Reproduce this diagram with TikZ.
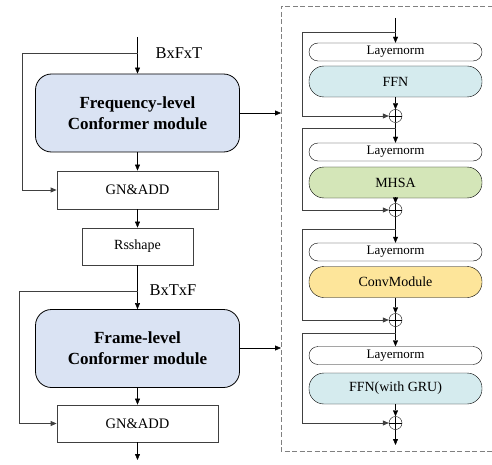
\documentclass[tikz,border=0pt]{standalone}
\usepackage{fontspec}
\setmainfont{Liberation Serif}
\usetikzlibrary{arrows.meta,positioning,calc}

\definecolor{blockblue}{HTML}{DAE3F3}
\definecolor{ffncyan}{HTML}{D5EBEE}
\definecolor{mhsagreen}{HTML}{D4E6B8}
\definecolor{convyellow}{HTML}{FDE59A}
\definecolor{linegray}{HTML}{404040}

\tikzset{
    arr/.style={draw=black, -{Triangle[length=6pt,width=5pt]}},
    skip/.style={draw=linegray, thick, -{Triangle[length=6pt,width=5pt]}},
    conformer/.style={draw, thick, rounded corners=16pt, fill=blockblue, minimum width=204pt,
        minimum height=78pt, align=center, font=\fontsize{17}{21}\selectfont\bfseries},
    plainbox/.style={draw=linegray, thick, fill=white, minimum width=161pt, minimum height=38pt,
        font=\fontsize{14.5}{17}\selectfont},
    normbox/.style={draw, rounded corners=9pt, minimum width=173pt, minimum height=18pt,
        inner sep=0pt, font=\fontsize{13}{15}\selectfont},
    subblock/.style={draw, rounded corners=15pt, minimum width=173pt, minimum height=31pt,
        inner sep=0pt, font=\fontsize{14}{16}\selectfont},
    addsum/.style={draw, circle, minimum size=13pt, inner sep=0pt,
        path picture={\draw (path picture bounding box.north) -- (path picture bounding box.south)
            (path picture bounding box.west) -- (path picture bounding box.east);}},
    dimlabel/.style={anchor=west, font=\fontsize{16.5}{19}\selectfont}
}

\begin{document}
\begin{tikzpicture}[x=1pt, y=-1pt]
    \useasboundingbox (0,0) rectangle (492,465);

    % outer column
    \coordinate (in1) at (137.5,37);
    \coordinate (b1) at (137.5,53);
    \node[dimlabel] (shape1) at (152,53) {BxFxT};
    \node[conformer] (freq) at (137.5,113) {Frequency-level\\Conformer module};
    \node[plainbox] (gn1) at (137.5,190) {GN\&ADD};
    \node[plainbox, minimum width=111pt, minimum height=37pt, font=\fontsize{14}{17}\selectfont] (rs) at (137.5,246.5) {Rsshape};
    \coordinate (b2) at (137.5,291);
    \node[dimlabel] (shape2) at (146,290) {BxTxF};
    \node[conformer] (frame) at (137.5,348.5) {Frame-level\\Conformer module};
    \node[plainbox, minimum height=37pt] (gn2) at (137.5,423.5) {GN\&ADD};
    \coordinate (out1) at (137.5,460);

    \draw[arr] (in1) -- (freq);
    \draw[arr] (freq) -- (gn1);
    \draw[arr] (gn1) -- (rs);
    \draw[arr] (rs) -- (frame);
    \draw[arr] (frame) -- (gn2);
    \draw[arr] (gn2) -- (out1);
    \draw[skip] (b1) -- (22,53) |- (gn1);
    \draw[skip] (b2) -- (19,291) |- (gn2);

    % detail of one conformer module
    \draw[gray, dash pattern=on 5pt off 2.5pt] (500,6) -- (281,6) -- (281,451) -- (500,451);
    \coordinate (detail1) at (281,113);
    \coordinate (detail2) at (281,348);
    \draw[arr] (freq.east |- detail1) -- (detail1);
    \draw[arr] (frame.east |- detail2) -- (detail2);

    \coordinate (in2) at (395.5,18);
    \coordinate (s1) at (395.5,32);
    \node[normbox] (ln1) at (395.5,52) {Layernorm};
    \node[subblock, fill=ffncyan] (ffn) at (395.5,81.5) {FFN};
    \node[addsum] (c1) at (395.5,116) {};
    \coordinate (s2) at (395.5,128);
    \node[normbox] (ln2) at (395.5,152) {Layernorm};
    \node[subblock, fill=mhsagreen] (mhsa) at (395.5,182.5) {MHSA};
    \node[addsum] (c2) at (395.5,210) {};
    \coordinate (s3) at (395.5,229);
    \node[normbox] (ln3) at (395.5,252) {Layernorm};
    \node[subblock, fill=convyellow] (conv) at (395.5,282) {ConvModule};
    \node[addsum] (c3) at (395.5,320) {};
    \coordinate (s4) at (395.5,333);
    \node[normbox] (ln4) at (395.5,355.5) {Layernorm};
    \node[subblock, fill=ffncyan] (gru) at (395.5,388.5) {FFN(with GRU)};
    \node[addsum] (c4) at (395.5,423) {};
    \coordinate (out2) at (395.5,445);

    \draw[arr] (in2) -- (ln1);
    \draw[arr] (ffn) -- (c1);
    \draw[arr] (c1) -- (ln2);
    \draw[arr] (mhsa) -- (c2);
    \draw[arr] (c2) -- (ln3);
    \draw[arr] (conv) -- (c3);
    \draw[arr] (c3) -- (ln4);
    \draw[arr] (gru) -- (c4);
    \draw[arr] (c4) -- (out2);
    \draw[skip] (s1) -- (302,32) |- (c1);
    \draw[skip] (s2) -- (302,128) |- (c2);
    \draw[skip] (s3) -- (302,229) |- (c3);
    \draw[skip] (s4) -- (302,333) |- (c4);
\end{tikzpicture}
\end{document}
